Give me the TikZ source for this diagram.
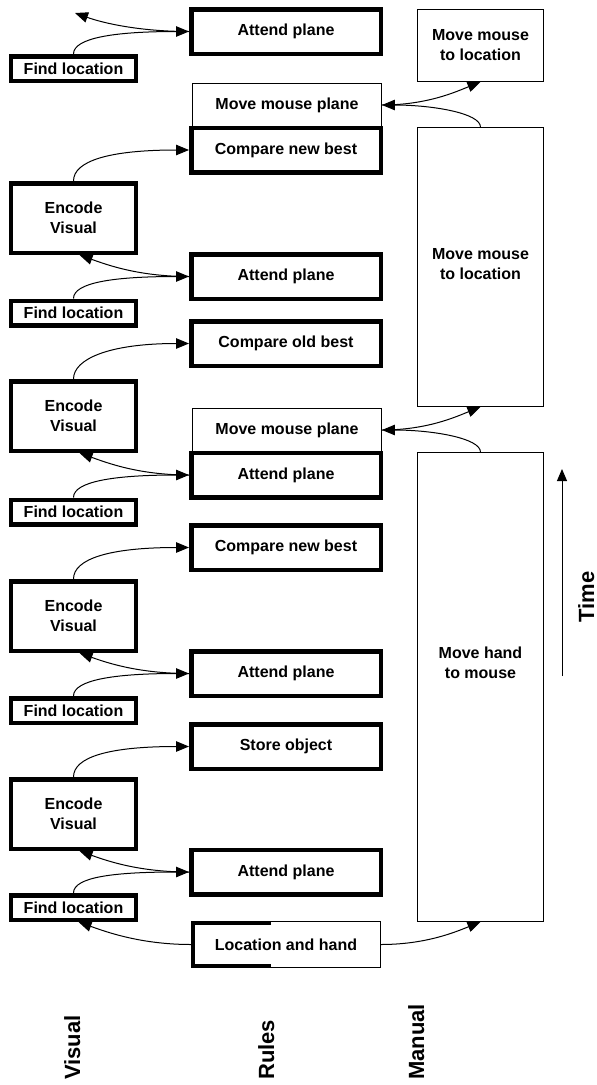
\documentclass[tikz,border=0pt]{standalone}
\usepackage{fontspec}
\setmainfont{Liberation Sans}
\usetikzlibrary{arrows.meta,calc}
\begin{document}
\begin{tikzpicture}[x=1bp,y=-1bp,
  lbl/.style={font=\bfseries\fontsize{16bp}{20bp}\selectfont, align=center},
  heavy/.style={lbl, draw, line width=4.5bp, fill=white, inner sep=0pt, rectangle},
  light/.style={lbl, draw, line width=0.9bp, fill=white, inner sep=0pt, rectangle},
  vis/.style={heavy, minimum width=124.5bp},
  findbox/.style={vis, minimum height=24.5bp},
  encbox/.style={vis, minimum height=69.5bp},
  rulebox/.style={heavy, minimum width=189.5bp, minimum height=44.5bp},
  rulethin/.style={light, minimum width=189bp, minimum height=43bp},
  manbox/.style={light, minimum width=126bp},
  conn/.style={line width=1bp, -{Triangle[length=13bp,width=10.5bp]}},
  axislabel/.style={font=\bfseries\fontsize{22bp}{26bp}\selectfont, rotate=90, inner sep=0pt}
]
\fill[white] (0,0) rectangle (597,1085);
\useasboundingbox (0,0) rectangle (597,1085);

% ---- rules column: thin boxes first, heavy boxes on top of them
\node[rulethin] (mmp1) at (287,105) {Move mouse plane};
\node[rulethin] (mmp2) at (287,430) {Move mouse plane};
\node[light, minimum width=189bp, minimum height=46bp] (lh) at (286,944.5) {Location and hand};
\draw[line width=4.5bp]
  ([shift={(80bp,-1.8bp)}]lh.north west) -- ([shift={(1.8bp,-1.8bp)}]lh.north west)
  -- ([shift={(1.8bp,1.8bp)}]lh.south west) -- ([shift={(80bp,1.8bp)}]lh.south west);

\node[rulebox] (ap1)  at (286,31.5)  {Attend plane};
\node[rulebox] (cnb1) at (286,150)   {Compare new best};
\node[rulebox] (ap2)  at (286,276.5) {Attend plane};
\node[rulebox] (cob)  at (286,343.5) {Compare old best};
\node[rulebox] (ap3)  at (286,475)   {Attend plane};
\node[rulebox] (cnb2) at (286,547.5) {Compare new best};
\node[rulebox] (ap4)  at (286,673.5) {Attend plane};
\node[rulebox] (so)   at (286,746.5) {Store object};
\node[rulebox] (ap5)  at (286,872)   {Attend plane};

% ---- visual column
\node[findbox] (fl1) at (73.5,68.5)  {Find location};
\node[encbox]  (ev1) at (73.5,218)   {Encode\\Visual};
\node[findbox] (fl2) at (73.5,313)   {Find location};
\node[encbox]  (ev2) at (73.5,416)   {Encode\\Visual};
\node[findbox] (fl3) at (73.5,512)   {Find location};
\node[encbox]  (ev3) at (73.5,616)   {Encode\\Visual};
\node[findbox] (fl4) at (73.5,710.5) {Find location};
\node[encbox]  (ev4) at (73.5,814)   {Encode\\Visual};
\node[findbox] (fl5) at (73.5,907.5) {Find location};
\coordinate (evtop) at (75,13);

% ---- manual column
\node[manbox, minimum height=72bp]  (mml1) at (480.5,45.5) {Move mouse\\to location};
\node[manbox, minimum height=279bp] (mml2) at (480.5,267) {};
\node[lbl] (mml2t) at (480.5,264) {Move mouse\\to location};
\node[manbox, minimum height=469bp] (mhm) at (480.5,687) {};
\node[lbl] (mhmt) at (480.5,663) {Move hand\\to mouse};

% ---- visual <-> rules connectors
\draw[conn] (fl1.north) .. controls +(0,-16) and +(-75,0) .. (ap1.west);
\draw[conn] (ap1.west) .. controls +(-50,0) and +(28,10) .. (evtop);
\draw[conn] (ev1.north) .. controls +(0,-20) and +(-80,0) .. (cnb1.west);
\draw[conn] (fl2.north) .. controls +(0,-16) and +(-75,0) .. (ap2.west);
\draw[conn] (ap2.west) .. controls +(-50,0) and +(28,10) .. ([xshift=6bp]ev1.south);
\draw[conn] (ev2.north) .. controls +(0,-20) and +(-80,0) .. (cob.west);
\draw[conn] (fl3.north) .. controls +(0,-16) and +(-75,0) .. (ap3.west);
\draw[conn] (ap3.west) .. controls +(-50,0) and +(28,10) .. ([xshift=6bp]ev2.south);
\draw[conn] (ev3.north) .. controls +(0,-20) and +(-80,0) .. (cnb2.west);
\draw[conn] (fl4.north) .. controls +(0,-16) and +(-75,0) .. (ap4.west);
\draw[conn] (ap4.west) .. controls +(-50,0) and +(28,10) .. ([xshift=6bp]ev3.south);
\draw[conn] (ev4.north) .. controls +(0,-20) and +(-80,0) .. (so.west);
\draw[conn] (fl5.north) .. controls +(0,-16) and +(-75,0) .. (ap5.west);
\draw[conn] (ap5.west) .. controls +(-50,0) and +(28,10) .. ([xshift=6bp]ev4.south);
\draw[conn] (lh.west) .. controls +(-50,0) and +(28,10) .. ([xshift=5bp]fl5.south);

% ---- manual <-> rules connectors
\draw[conn] (mml2.north) .. controls +(0,-14) and +(50,0) .. (mmp1.east);
\draw[conn] (mmp1.east) .. controls +(45,0) and +(-25,10) .. (mml1.south);
\draw[conn] (mhm.north) .. controls +(0,-14) and +(50,0) .. (mmp2.east);
\draw[conn] (mmp2.east) .. controls +(45,0) and +(-25,10) .. (mml2.south);
\draw[conn] (lh.east) .. controls +(45,0) and +(-25,10) .. (mhm.south);

% ---- time axis
\coordinate (t0) at (562,676);
\coordinate (t1) at (562,469);
\draw[line width=1bp, -{Triangle[length=12bp,width=10bp]}] (t0) -- (t1);
\node[axislabel, anchor=base] (time) at (594,597) {Time};

% ---- column labels
\node[axislabel, anchor=base west] (visual) at (80,1080) {Visual};
\node[axislabel, anchor=base west] (rules)  at (274,1080) {Rules};
\node[axislabel, anchor=base west] (manual) at (424,1080) {Manual};
\end{tikzpicture}
\end{document}
